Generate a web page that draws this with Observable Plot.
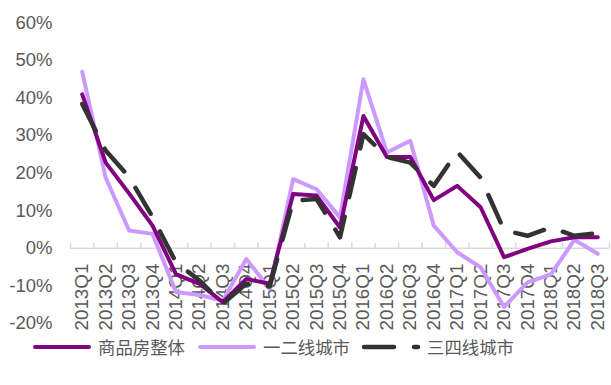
<!DOCTYPE html>
<html>
<head>
<meta charset="utf-8">
<script src="https://cdn.jsdelivr.net/npm/d3@7"></script>
<script src="https://cdn.jsdelivr.net/npm/@observablehq/plot@0.6"></script>
<style>
  html, body { margin: 0; padding: 0; background: #fff; }
  #chart { width: 611px; }
  .legend {
    position: relative; height: 40px; width: 611px;
    font-family: "Noto Sans CJK SC", sans-serif; font-size: 17.4px; color: #595959;
  }
  .legend .item { position: absolute; top: 1px; display: flex; align-items: center; height: 22px; }
  .legend svg { display: block; margin-right: 6px; }
  .legend span { line-height: 22px; white-space: nowrap; }
</style>
</head>
<body>
<div id="chart"></div>
<script>
// Quarterly sales growth, % year on year
const quarters = [
  "2013Q1", "2013Q2", "2013Q3", "2013Q4",
  "2014Q1", "2014Q2", "2014Q3", "2014Q4",
  "2015Q1", "2015Q2", "2015Q3", "2015Q4",
  "2016Q1", "2016Q2", "2016Q3", "2016Q4",
  "2017Q1", "2017Q2", "2017Q3", "2017Q4",
  "2018Q1", "2018Q2", "2018Q3"
];
// 商品房整体
const overall = [41.0, 22.8, 14.6, 6.0, -6.9, -9.5, -14.4, -8.2, -9.5, 14.4, 14.0, 5.5,
  35.2, 24.3, 24.3, 12.8, 16.6, 10.9, -2.4, -0.2, 1.8, 2.9, 2.9];
// 一二线城市
const tier12 = [47.0, 18.8, 4.7, 3.8, -11.7, -12.5, -14.0, -2.9, -10.8, 18.4, 15.7, 8.2,
  45.0, 25.5, 28.6, 6.0, -1.1, -5.1, -15.7, -9.1, -7.0, 2.2, -1.5];
// 三四线城市
const tier34 = [38.4, 26.0, 19.0, 8.3, -3.8, -8.6, -14.8, -9.5, -10.2, 12.6, 13.1, 2.9,
  30.4, 24.3, 22.8, 16.6, 25.7, 18.8, 4.8, 3.3, 5.5, 3.3, 4.0];
const yTicks = [-20, -10, 0, 10, 20, 30, 40, 50, 60];

const seriesNames = ["商品房整体", "一二线城市", "三四线城市"];
const seriesColors = ["#800080", "#CC99FF", "#333333"];
const dash = "30,20";

// boundaries between quarter slots, where the small axis ticks sit
const slotEdges = d3.range(quarters.length + 1).map(i => i - 0.5);
const idx = (d, i) => i;

const chart = Plot.plot({
  width: 611,
  height: 335,
  marginLeft: 70,
  marginRight: 2,
  marginTop: 22.5,
  marginBottom: 12.3,
  style: { fontFamily: "'Liberation Sans', Arial, sans-serif", fontSize: "18.5px", color: "#595959", background: "#fff" },
  x: { domain: [-0.5, quarters.length - 0.5], axis: null },
  y: { domain: [-20, 60], ticks: yTicks, tickFormat: d => `${d}%`, tickSize: 0, tickPadding: 18, label: null },
  marks: [
    Plot.ruleY([0], { stroke: "#d9d9d9", strokeWidth: 1.5 }),
    Plot.ruleX(slotEdges, { x: d => d, y1: 0, y2: 0, insetBottom: 5, stroke: "#d9d9d9", strokeWidth: 1.5 }),
    Plot.text(quarters, {
      x: idx, y: 0, text: d => d, rotate: -90, textAnchor: "end", dy: 15.5,
      fill: "#595959", fontSize: 18.8
    }),
    Plot.line(tier12, { x: idx, y: d => d, stroke: seriesColors[1], strokeWidth: 4, strokeLinejoin: "round", strokeLinecap: "round" }),
    Plot.line(overall, { x: idx, y: d => d, stroke: seriesColors[0], strokeWidth: 4, strokeLinejoin: "round", strokeLinecap: "round" }),
    Plot.line(tier34, { x: idx, y: d => d, stroke: seriesColors[2], strokeWidth: 4.5, strokeDasharray: dash, strokeLinejoin: "round", strokeLinecap: "round" })
  ]
});
document.getElementById("chart").appendChild(chart);

// legend under the plot
const legend = d3.select("body").append("div").attr("class", "legend");
const legendLeft = [33, 198, 362];
seriesNames.forEach((name, k) => {
  const item = legend.append("div").attr("class", "item").style("left", `${legendLeft[k] - 1}px`);
  const s = item.append("svg").attr("width", 60).attr("height", 10);
  s.append("line")
    .attr("x1", 3).attr("x2", 57).attr("y1", 5).attr("y2", 5)
    .attr("stroke", seriesColors[k])
    .attr("stroke-width", k === 2 ? 4.5 : 4)
    .attr("stroke-linecap", "round")
    .attr("stroke-dasharray", k === 2 ? dash : null);
  item.append("span").text(name);
});
</script>
</body>
</html>
